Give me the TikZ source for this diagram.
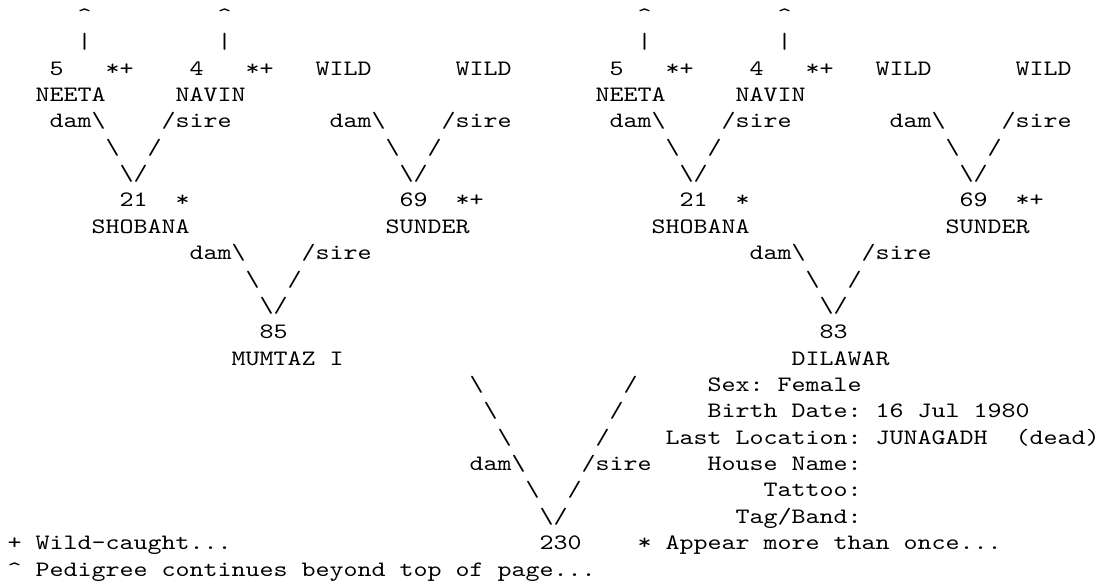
\documentclass[tikz,border=0pt]{standalone}
\usepackage{fontspec}
\newfontfamily\asciifont{lmmono10-regular.otf}[FakeStretch=1.2121]
\frenchspacing

\begin{document}
\begin{tikzpicture}[
  pedtext/.style = {anchor=base west, inner sep=0pt, outer sep=0pt, font={\asciifont\fontsize{11pt}{13pt}\selectfont}},
  x=7pt, y=-13.185pt,
]
  \useasboundingbox (-0.536,0.154) rectangle (78.32,22.338);

  \node[pedtext] (upNL)   at (5,1)  {\textasciicircum};
  \node[pedtext] (upVL)   at (15,1) {\textasciicircum};
  \node[pedtext] (barNL)  at (5,2)  {|};
  \node[pedtext] (barVL)  at (15,2) {|};
  \node[pedtext] (idNL)   at (3,3)  {5};
  \node[pedtext] (mkNL)   at (7,3)  {*+};
  \node[pedtext] (idVL)   at (13,3) {4};
  \node[pedtext] (mkVL)   at (17,3) {*+};
  \node[pedtext] (idWL)   at (22,3) {WILD};
  \node[pedtext] (idXL)   at (32,3) {WILD};
  \node[pedtext] (nmNL)   at (2,4)  {NEETA};
  \node[pedtext] (nmVL)   at (12,4) {NAVIN};
  \node[pedtext] (damSL)  at (3,5)  {dam\textbackslash};
  \node[pedtext] (sireSL) at (11,5) {/sire};
  \node[pedtext] (damUL)  at (23,5) {dam\textbackslash};
  \node[pedtext] (sireUL) at (31,5) {/sire};
  \node[pedtext] (dlSL)   at (7,6)  {\textbackslash};
  \node[pedtext] (slSL)   at (10,6) {/};
  \node[pedtext] (dlUL)   at (27,6) {\textbackslash};
  \node[pedtext] (slUL)   at (30,6) {/};
  \node[pedtext] (vSL)    at (8,7)  {\textbackslash/};
  \node[pedtext] (vUL)    at (28,7) {\textbackslash/};
  \node[pedtext] (idSL)   at (8,8)  {21};
  \node[pedtext] (mkSL)   at (12,8) {*};
  \node[pedtext] (idUL)   at (28,8) {69};
  \node[pedtext] (mkUL)   at (32,8) {*+};
  \node[pedtext] (nmSL)   at (6,9)  {SHOBANA};
  \node[pedtext] (nmUL)   at (27,9) {SUNDER};
  \node[pedtext] (damM)   at (13,10) {dam\textbackslash};
  \node[pedtext] (sireM)  at (21,10) {/sire};
  \node[pedtext] (dlM)    at (17,11) {\textbackslash};
  \node[pedtext] (slM)    at (20,11) {/};
  \node[pedtext] (vM)     at (18,12) {\textbackslash/};
  \node[pedtext] (idM)    at (18,13) {85};
  \node[pedtext] (nmM)    at (16,14) {MUMTAZ I};

  \node[pedtext] (upNR)   at (45,1) {\textasciicircum};
  \node[pedtext] (upVR)   at (55,1) {\textasciicircum};
  \node[pedtext] (barNR)  at (45,2) {|};
  \node[pedtext] (barVR)  at (55,2) {|};
  \node[pedtext] (idNR)   at (43,3) {5};
  \node[pedtext] (mkNR)   at (47,3) {*+};
  \node[pedtext] (idVR)   at (53,3) {4};
  \node[pedtext] (mkVR)   at (57,3) {*+};
  \node[pedtext] (idWR)   at (62,3) {WILD};
  \node[pedtext] (idXR)   at (72,3) {WILD};
  \node[pedtext] (nmNR)   at (42,4) {NEETA};
  \node[pedtext] (nmVR)   at (52,4) {NAVIN};
  \node[pedtext] (damSR)  at (43,5) {dam\textbackslash};
  \node[pedtext] (sireSR) at (51,5) {/sire};
  \node[pedtext] (damUR)  at (63,5) {dam\textbackslash};
  \node[pedtext] (sireUR) at (71,5) {/sire};
  \node[pedtext] (dlSR)   at (47,6) {\textbackslash};
  \node[pedtext] (slSR)   at (50,6) {/};
  \node[pedtext] (dlUR)   at (67,6) {\textbackslash};
  \node[pedtext] (slUR)   at (70,6) {/};
  \node[pedtext] (vSR)    at (48,7) {\textbackslash/};
  \node[pedtext] (vUR)    at (68,7) {\textbackslash/};
  \node[pedtext] (idSR)   at (48,8) {21};
  \node[pedtext] (mkSR)   at (52,8) {*};
  \node[pedtext] (idUR)   at (68,8) {69};
  \node[pedtext] (mkUR)   at (72,8) {*+};
  \node[pedtext] (nmSR)   at (46,9) {SHOBANA};
  \node[pedtext] (nmUR)   at (67,9) {SUNDER};
  \node[pedtext] (damD)   at (53,10) {dam\textbackslash};
  \node[pedtext] (sireD)  at (61,10) {/sire};
  \node[pedtext] (dlD)    at (57,11) {\textbackslash};
  \node[pedtext] (slD)    at (60,11) {/};
  \node[pedtext] (vD)     at (58,12) {\textbackslash/};
  \node[pedtext] (idD)    at (58,13) {83};
  \node[pedtext] (nmD)    at (56,14) {DILAWAR};

  \node[pedtext] (dlA)    at (33,15) {\textbackslash};
  \node[pedtext] (slA)    at (44,15) {/};
  \node[pedtext] (dlB)    at (34,16) {\textbackslash};
  \node[pedtext] (slB)    at (43,16) {/};
  \node[pedtext] (dlC)    at (35,17) {\textbackslash};
  \node[pedtext] (slC)    at (42,17) {/};
  \node[pedtext] (dam)    at (33,18) {dam\textbackslash};
  \node[pedtext] (sire)   at (41,18) {/sire};
  \node[pedtext] (dlE)    at (37,19) {\textbackslash};
  \node[pedtext] (slE)    at (40,19) {/};
  \node[pedtext] (v)      at (38,20) {\textbackslash/};
  \node[pedtext] (id)     at (38,21) {230};

  \node[pedtext] (sex)    at (50,15) {Sex: Female};
  \node[pedtext] (birth)  at (50,16) {Birth Date: 16 Jul 1980};
  \node[pedtext] (loc)    at (47,17) {Last Location: JUNAGADH};
  \node[pedtext] (dead)   at (72,17) {(dead)};
  \node[pedtext] (house)  at (50,18) {House Name:};
  \node[pedtext] (tattoo) at (54,19) {Tattoo:};
  \node[pedtext] (tag)    at (52,20) {Tag/Band:};

  \node[pedtext] (keywild) at (0,21)  {+ Wild-caught...};
  \node[pedtext] (keyonce) at (45,21) {* Appear more than once...};
  \node[pedtext] (keytop)  at (0,22)  {\textasciicircum{} Pedigree continues beyond top of page...};
\end{tikzpicture}
\end{document}
